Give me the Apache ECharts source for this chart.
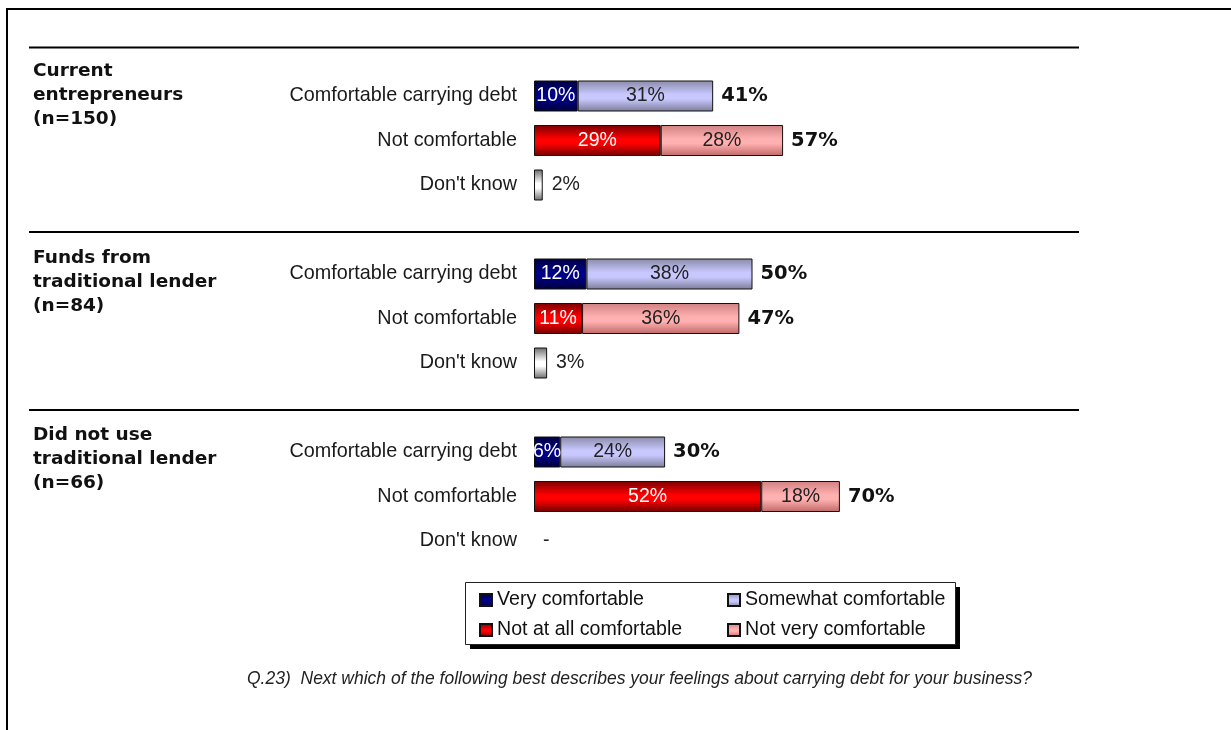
<!DOCTYPE html>
<html>
<head>
<meta charset="utf-8">
<script src="https://cdn.jsdelivr.net/npm/echarts@6/dist/echarts.min.js"></script>
<style>
html,body{margin:0;padding:0;background:#fff;}
#chart{width:1231px;height:730px;}
</style>
</head>
<body>
<div id="chart"></div>
<script>
// ---- Data ----
const groupTitles = ['Current\nentrepreneurs\n(n=150)', 'Funds from\ntraditional lender\n(n=84)', 'Did not use\ntraditional lender\n(n=66)'];
const rowLabels = ['Comfortable carrying debt', 'Not comfortable', "Don't know"];
const veryComfortable = [10, 12, 6];
const somewhatComfortable = [31, 38, 24];
const notAtAllComfortable = [29, 11, 52];
const notVeryComfortable = [28, 36, 18];
const dontKnow = [2, 3, 0];
const totalComfortable = [41, 50, 30];
const totalNotComfortable = [57, 47, 70];
const seriesNames = ['Very comfortable', 'Somewhat comfortable', 'Not at all comfortable', 'Not very comfortable'];
const footnote = 'Q.23)  Next which of the following best describes your feelings about carrying debt for your business?';

// ---- Build category axis (3 rows per group, blank spacer between groups) ----
const categories = [];
const rowIndex = []; // rowIndex[g][r]
groupTitles.forEach((t, g) => {
  rowIndex.push([]);
  rowLabels.forEach((l, r) => { rowIndex[g].push(categories.length); categories.push(l); });
  if (g < groupTitles.length - 1) categories.push('');
});
function fill(arr, row) {
  const d = categories.map(() => '-');
  arr.forEach((v, g) => { d[rowIndex[g][row]] = v; });
  return d;
}

const grad = (a, b, c) => new echarts.graphic.LinearGradient(0, 0, 0, 1, [
  {offset: 0, color: a}, {offset: 0.45, color: b}, {offset: 0.6, color: b}, {offset: 1, color: c}
]);
const colors = {
  very: grad('#000040', '#000088', '#000038'),
  some: grad('#8a8aa8', '#c8c8ff', '#7c7c98'),
  notAll: grad('#7a0000', '#ff0000', '#700000'),
  notVery: grad('#d08080', '#ffb0b0', '#c06868'),
  dk: grad('#6a6a6a', '#ffffff', '#6a6a6a')
};
const labelFont = 'Liberation Sans';
const BW = 31;

function barSeries(name, data, color, labelColor) {
  return {
    name: name, type: 'bar', stack: 'all', barWidth: BW, data: data,
    itemStyle: {color: color, borderColor: '#111', borderWidth: 1},
    label: {show: true, position: 'inside', color: labelColor, fontFamily: labelFont, fontSize: 19.5,
      formatter: p => p.value + '%'},
    emphasis: {disabled: true}, animation: false
  };
}

const dkData = fill(dontKnow, 2).map(v => v === 0 ? {value: 0, itemStyle: {borderWidth: 0}} : v);
const totals = [];
totalComfortable.forEach((v, g) => totals.push([v, rowIndex[g][0]]));
totalNotComfortable.forEach((v, g) => totals.push([v, rowIndex[g][1]]));

const legendText = {fontFamily: labelFont, fontSize: 19.6, color: '#111', lineHeight: 20};

const chart = echarts.init(document.getElementById('chart'), null, {renderer: 'canvas'});
const option = {
  backgroundColor: '#fff',
  animation: false,
  title: groupTitles.map((t, g) => ({
    text: t, left: 33, top: [59, 246, 423][g], padding: 0,
    textStyle: {fontFamily: 'DejaVu Sans', fontWeight: 'bold', fontSize: 18.5, lineHeight: 24, color: '#111'}
  })).concat([{
    text: footnote, left: 247, top: 670, padding: 0,
    textStyle: {fontFamily: 'Liberation Sans', fontStyle: 'italic', fontWeight: 'normal', fontSize: 17.5, color: '#222'}
  }]),
  grid: {left: 534, top: 73.75, height: 489.5, width: 437, containLabel: false},
  xAxis: {type: 'value', min: 0, max: 100, show: false},
  yAxis: {
    type: 'category', inverse: true, data: categories,
    axisLine: {show: false}, axisTick: {show: false}, splitLine: {show: false},
    axisLabel: {margin: 17, color: '#1a1a1a', fontFamily: labelFont, fontSize: 19.8}
  },
  legend: [
    {data: [seriesNames[0], seriesNames[2]], orient: 'vertical', left: 479, top: 590, padding: 0, icon: 'rect',
      itemWidth: 12, itemHeight: 12, itemGap: 10, textStyle: legendText, selectedMode: false},
    {data: [seriesNames[1], seriesNames[3]], orient: 'vertical', left: 727, top: 590, padding: 0, icon: 'rect',
      itemWidth: 12, itemHeight: 12, itemGap: 10, textStyle: legendText, selectedMode: false}
  ],
  graphic: [
    {type: 'line', shape: {x1: 7, y1: 9, x2: 1231, y2: 9}, style: {stroke: '#000', lineWidth: 2}, z: 0},
    {type: 'line', shape: {x1: 7, y1: 8, x2: 7, y2: 730}, style: {stroke: '#000', lineWidth: 2}, z: 0},
    {type: 'line', shape: {x1: 29, y1: 47.5, x2: 1079, y2: 47.5}, style: {stroke: '#000', lineWidth: 2}, z: 0},
    {type: 'line', shape: {x1: 29, y1: 232, x2: 1079, y2: 232}, style: {stroke: '#000', lineWidth: 2}, z: 0},
    {type: 'line', shape: {x1: 29, y1: 410, x2: 1079, y2: 410}, style: {stroke: '#000', lineWidth: 2}, z: 0},
    {type: 'rect', shape: {x: 470, y: 587, width: 490, height: 62}, z: 0, style: {fill: '#000'}},
    {type: 'rect', shape: {x: 465.5, y: 582.5, width: 490, height: 62}, z: 1,
      style: {fill: '#fff', stroke: '#222', lineWidth: 1}}
  ],
  series: [
    barSeries(seriesNames[0], fill(veryComfortable, 0), colors.very, '#fff'),
    barSeries(seriesNames[1], fill(somewhatComfortable, 0), colors.some, '#222'),
    barSeries(seriesNames[2], fill(notAtAllComfortable, 1), colors.notAll, '#fff'),
    barSeries(seriesNames[3], fill(notVeryComfortable, 1), colors.notVery, '#222'),
    {
      name: "Don't know", type: 'bar', stack: 'all', barWidth: BW, data: dkData,
      itemStyle: {color: colors.dk, borderColor: '#111', borderWidth: 1},
      label: {show: true, position: 'right', distance: 9, color: '#222', fontFamily: labelFont, fontSize: 19.5,
        formatter: p => p.value === 0 ? '-' : p.value + '%'},
      emphasis: {disabled: true}
    },
    {
      name: 'Total', type: 'scatter', data: totals, symbolSize: 0, z: 5,
      itemStyle: {opacity: 1},
      label: {show: true, position: 'right', distance: 8, color: '#111', opacity: 1, fontFamily: 'DejaVu Sans', fontWeight: 'bold', fontSize: 19.5,
        formatter: p => p.value[0] + '%'},
      emphasis: {disabled: true}
    }
  ]
};
chart.setOption(option);
</script>
</body>
</html>
